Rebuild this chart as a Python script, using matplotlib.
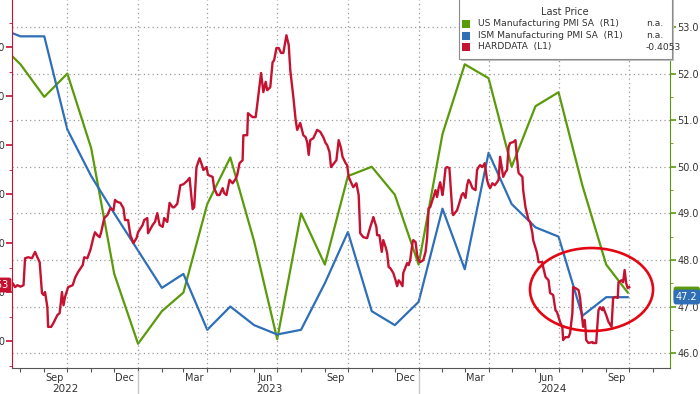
# US / ISM manufacturing PMI vs HARDDATA, Bloomberg style, two y axes
import numpy as np
import pandas as pd
import matplotlib
matplotlib.use('Agg')
import matplotlib.pyplot as plt
import matplotlib.dates as mdates
import matplotlib.transforms as mtransforms
from matplotlib.patches import Ellipse, Rectangle
from matplotlib.ticker import MultipleLocator, FuncFormatter

# monthly prints, plotted at the start of the following month (right axis)
pmi_dates = ['2022-07-01', '2022-08-01', '2022-09-01', '2022-10-01', '2022-11-01', '2022-12-01',
             '2023-01-01', '2023-02-01', '2023-03-01', '2023-04-01', '2023-05-01', '2023-06-01',
             '2023-07-01', '2023-08-01', '2023-09-01', '2023-10-01', '2023-11-01', '2023-12-01',
             '2024-01-01', '2024-02-01', '2024-03-01', '2024-04-01', '2024-05-01', '2024-06-01',
             '2024-07-01', '2024-08-01', '2024-09-01', '2024-09-29']
us_pmi = [52.7, 52.2, 51.5, 52.0, 50.4, 47.7,
          46.2, 46.9, 47.3, 49.2, 50.2, 48.4,
          46.3, 49.0, 47.9, 49.8, 50.0, 49.4,
          47.9, 50.7, 52.2, 51.9, 50.0, 51.3,
          51.6, 49.6, 47.9, 47.3]
ism_pmi = [53.0, 52.8, 52.8, 50.8, 49.8, 49.0,
           48.2, 47.4, 47.7, 46.5, 47.0, 46.6,
           46.4, 46.5, 47.5, 48.6, 46.9, 46.6,
           47.1, 49.1, 47.8, 50.3, 49.2, 48.7,
           48.5, 46.8, 47.2, 47.2]

# HARDDATA index (left axis)
hard_series = [
    ('2022-07-19', -0.396), ('2022-07-22', -0.382), ('2022-07-25', -0.390), ('2022-07-28', -0.386),
    ('2022-08-01', -0.389), ('2022-08-05', -0.386), ('2022-08-07', -0.331), ('2022-08-11', -0.329),
    ('2022-08-16', -0.331), ('2022-08-20', -0.318), ('2022-08-23', -0.329), ('2022-08-26', -0.339),
    ('2022-08-29', -0.402), ('2022-08-31', -0.406), ('2022-09-02', -0.400), ('2022-09-05', -0.431),
    ('2022-09-06', -0.471), ('2022-09-10', -0.471), ('2022-09-13', -0.463), ('2022-09-18', -0.447),
    ('2022-09-21', -0.443), ('2022-09-24', -0.400), ('2022-09-26', -0.427), ('2022-09-28', -0.410),
    ('2022-10-02', -0.390), ('2022-10-08', -0.386), ('2022-10-11', -0.371), ('2022-10-15', -0.359),
    ('2022-10-21', -0.345), ('2022-10-23', -0.329), ('2022-10-27', -0.331), ('2022-10-31', -0.314),
    ('2022-11-04', -0.288), ('2022-11-06', -0.278), ('2022-11-09', -0.284), ('2022-11-12', -0.288),
    ('2022-11-14', -0.278), ('2022-11-18', -0.249), ('2022-11-22', -0.243), ('2022-11-26', -0.229),
    ('2022-11-30', -0.233), ('2022-12-02', -0.212), ('2022-12-05', -0.216), ('2022-12-09', -0.218),
    ('2022-12-13', -0.229), ('2022-12-15', -0.253), ('2022-12-19', -0.253), ('2022-12-22', -0.284),
    ('2022-12-26', -0.300), ('2022-12-30', -0.290), ('2023-01-01', -0.278), ('2023-01-07', -0.263),
    ('2023-01-09', -0.253), ('2023-01-13', -0.249), ('2023-01-14', -0.280), ('2023-01-20', -0.263),
    ('2023-01-23', -0.257), ('2023-01-26', -0.239), ('2023-01-29', -0.263), ('2023-02-02', -0.267),
    ('2023-02-04', -0.249), ('2023-02-08', -0.257), ('2023-02-11', -0.218), ('2023-02-15', -0.227),
    ('2023-02-17', -0.227), ('2023-02-21', -0.220), ('2023-02-25', -0.182), ('2023-03-01', -0.180),
    ('2023-03-06', -0.173), ('2023-03-09', -0.167), ('2023-03-11', -0.198), ('2023-03-13', -0.231),
    ('2023-03-15', -0.227), ('2023-03-18', -0.145), ('2023-03-22', -0.127), ('2023-03-26', -0.145),
    ('2023-03-27', -0.151), ('2023-03-31', -0.145), ('2023-04-02', -0.161), ('2023-04-08', -0.165),
    ('2023-04-10', -0.188), ('2023-04-14', -0.202), ('2023-04-17', -0.202), ('2023-04-21', -0.188),
    ('2023-04-23', -0.198), ('2023-04-26', -0.202), ('2023-04-30', -0.171), ('2023-05-04', -0.178),
    ('2023-05-08', -0.169), ('2023-05-10', -0.161), ('2023-05-13', -0.137), ('2023-05-17', -0.131),
    ('2023-05-18', -0.080), ('2023-05-23', -0.080), ('2023-05-24', -0.035), ('2023-05-30', -0.043),
    ('2023-06-03', -0.043), ('2023-06-05', -0.018), ('2023-06-10', 0.047), ('2023-06-13', 0.008),
    ('2023-06-16', 0.029), ('2023-06-18', 0.012), ('2023-06-22', 0.018), ('2023-06-25', 0.069),
    ('2023-06-27', 0.073), ('2023-06-30', 0.098), ('2023-07-03', 0.098), ('2023-07-06', 0.088),
    ('2023-07-09', 0.088), ('2023-07-13', 0.124), ('2023-07-16', 0.104), ('2023-07-18', 0.053),
    ('2023-07-22', -0.002), ('2023-07-25', -0.049), ('2023-07-27', -0.069), ('2023-07-31', -0.055),
    ('2023-08-04', -0.080), ('2023-08-07', -0.084), ('2023-08-09', -0.094), ('2023-08-11', -0.120),
    ('2023-08-13', -0.090), ('2023-08-17', -0.086), ('2023-08-22', -0.069), ('2023-08-26', -0.073),
    ('2023-08-30', -0.084), ('2023-09-02', -0.096), ('2023-09-04', -0.100), ('2023-09-07', -0.114),
    ('2023-09-09', -0.145), ('2023-09-13', -0.137), ('2023-09-16', -0.131), ('2023-09-19', -0.090),
    ('2023-09-22', -0.106), ('2023-09-24', -0.124), ('2023-09-28', -0.137), ('2023-09-30', -0.141),
    ('2023-10-02', -0.165), ('2023-10-05', -0.176), ('2023-10-08', -0.186), ('2023-10-12', -0.178),
    ('2023-10-15', -0.202), ('2023-10-17', -0.280), ('2023-10-21', -0.288), ('2023-10-26', -0.290),
    ('2023-10-29', -0.273), ('2023-11-02', -0.253), ('2023-11-03', -0.247), ('2023-11-07', -0.267),
    ('2023-11-08', -0.284), ('2023-11-11', -0.284), ('2023-11-14', -0.318), ('2023-11-16', -0.294),
    ('2023-11-19', -0.308), ('2023-11-21', -0.320), ('2023-11-23', -0.349), ('2023-11-25', -0.351),
    ('2023-11-29', -0.361), ('2023-12-02', -0.376), ('2023-12-04', -0.388), ('2023-12-06', -0.376),
    ('2023-12-08', -0.380), ('2023-12-11', -0.388), ('2023-12-12', -0.361), ('2023-12-15', -0.349),
    ('2023-12-17', -0.341), ('2023-12-19', -0.345), ('2023-12-21', -0.335), ('2023-12-24', -0.300),
    ('2023-12-25', -0.294), ('2023-12-28', -0.298), ('2023-12-30', -0.324), ('2024-01-01', -0.335),
    ('2024-01-03', -0.339), ('2024-01-07', -0.335), ('2024-01-10', -0.318), ('2024-01-12', -0.290),
    ('2024-01-14', -0.229), ('2024-01-16', -0.227), ('2024-01-19', -0.212), ('2024-01-20', -0.208),
    ('2024-01-23', -0.192), ('2024-01-25', -0.206), ('2024-01-27', -0.188), ('2024-01-29', -0.176),
    ('2024-02-01', -0.202), ('2024-02-02', -0.192), ('2024-02-05', -0.147), ('2024-02-07', -0.145),
    ('2024-02-10', -0.147), ('2024-02-14', -0.239), ('2024-02-15', -0.243), ('2024-02-20', -0.233),
    ('2024-02-23', -0.218), ('2024-02-26', -0.202), ('2024-02-28', -0.198), ('2024-03-02', -0.208),
    ('2024-03-04', -0.182), ('2024-03-06', -0.171), ('2024-03-08', -0.176), ('2024-03-11', -0.188),
    ('2024-03-15', -0.192), ('2024-03-17', -0.151), ('2024-03-19', -0.145), ('2024-03-21', -0.141),
    ('2024-03-24', -0.145), ('2024-03-27', -0.137), ('2024-03-30', -0.171), ('2024-04-01', -0.182),
    ('2024-04-03', -0.188), ('2024-04-06', -0.178), ('2024-04-09', -0.182), ('2024-04-12', -0.176),
    ('2024-04-14', -0.171), ('2024-04-16', -0.124), ('2024-04-19', -0.155), ('2024-04-20', -0.165),
    ('2024-04-23', -0.155), ('2024-04-25', -0.151), ('2024-04-27', -0.104), ('2024-04-29', -0.096),
    ('2024-05-03', -0.094), ('2024-05-06', -0.090), ('2024-05-08', -0.127), ('2024-05-10', -0.157),
    ('2024-05-15', -0.165), ('2024-05-16', -0.192), ('2024-05-19', -0.227), ('2024-05-23', -0.253),
    ('2024-05-25', -0.257), ('2024-05-28', -0.280), ('2024-05-29', -0.294), ('2024-06-01', -0.310),
    ('2024-06-03', -0.320), ('2024-06-05', -0.339), ('2024-06-10', -0.339), ('2024-06-11', -0.349),
    ('2024-06-14', -0.369), ('2024-06-18', -0.376), ('2024-06-20', -0.402), ('2024-06-24', -0.406),
    ('2024-06-27', -0.437), ('2024-06-29', -0.441), ('2024-07-03', -0.461), ('2024-07-06', -0.473),
    ('2024-07-07', -0.498), ('2024-07-10', -0.492), ('2024-07-14', -0.492), ('2024-07-16', -0.484),
    ('2024-07-19', -0.443), ('2024-07-20', -0.390), ('2024-07-23', -0.392), ('2024-07-27', -0.396),
    ('2024-07-29', -0.412), ('2024-07-31', -0.443), ('2024-08-02', -0.471), ('2024-08-04', -0.457),
    ('2024-08-05', -0.473), ('2024-08-06', -0.498), ('2024-08-09', -0.504), ('2024-08-14', -0.502),
    ('2024-08-15', -0.504), ('2024-08-19', -0.504), ('2024-08-21', -0.457), ('2024-08-22', -0.437),
    ('2024-08-24', -0.431), ('2024-08-27', -0.437), ('2024-08-28', -0.431), ('2024-09-01', -0.447),
    ('2024-09-04', -0.461), ('2024-09-08', -0.471), ('2024-09-10', -0.412), ('2024-09-13', -0.410),
    ('2024-09-16', -0.412), ('2024-09-17', -0.380), ('2024-09-21', -0.376), ('2024-09-23', -0.380),
    ('2024-09-25', -0.355), ('2024-09-27', -0.382), ('2024-09-29', -0.392), ('2024-10-01', -0.390),
]
hard_dates = [d for d, v in hard_series]
hard_values = [v for d, v in hard_series]

month_labels = ['Sep', 'Dec', 'Mar', 'Jun', 'Sep', 'Dec', 'Mar', 'Jun', 'Sep']
month_label_dates = ['2022-09-15', '2022-12-15', '2023-03-15', '2023-06-15', '2023-09-15',
                     '2023-12-15', '2024-03-15', '2024-06-15', '2024-09-15']
year_labels = ['2022', '2023', '2024']
year_label_dates = ['2022-09-28', '2023-06-21', '2024-06-24']

legend_names = ['US Manufacturing PMI SA  (R1)', 'ISM Manufacturing PMI SA  (R1)', 'HARDDATA  (L1)']
legend_values = ['n.a.', 'n.a.', '-0.4053']

GREEN = '#5b9a0a'
BLUE = '#2e6fb7'
RED = '#c41230'
TXT = '#333333'
GRID = '#9a9a9a'

W, H = 700, 394
fig = plt.figure(figsize=(W / 100, H / 100), dpi=100)
fig.patch.set_facecolor('white')
ax = fig.add_axes([12 / W, 26 / H, 658 / W, 368 / H])
ax2 = ax.twinx()
ax.set_zorder(ax2.get_zorder() + 1)
ax.patch.set_visible(False)

# lines
ax2.plot(pd.to_datetime(pmi_dates), us_pmi, color=GREEN, lw=1.6)
ax2.plot(pd.to_datetime(pmi_dates), ism_pmi, color=BLUE, lw=1.6)
ax.plot(pd.to_datetime(hard_dates), hard_values, color=RED, lw=1.7)

ax.set_xlim(pd.Timestamp('2022-07-21'), pd.Timestamp('2024-11-23'))
ax.set_ylim(-0.555, 0.196)
ax2.set_ylim(45.68, 53.58)

# grid: horizontal from right axis, vertical at quarter starts
ax2.grid(axis='y', which='major', color=GRID, ls=(0, (1, 2.5)), lw=0.9)
for q in pd.date_range('2022-10-01', '2024-10-01', freq='QS'):
    ax2.axvline(q, color=GRID, ls=(0, (1, 2.5)), lw=0.9)

# spines
for s in ['top', 'right']:
    ax.spines[s].set_visible(False)
for s in ['top', 'left', 'bottom']:
    ax2.spines[s].set_visible(False)
ax.spines['left'].set_color(RED)
ax.spines['bottom'].set_color('#555555')
ax2.spines['right'].set_color(GREEN)

# left axis
ax.yaxis.set_major_locator(MultipleLocator(0.1))
ax.yaxis.set_minor_locator(MultipleLocator(0.05))
ax.yaxis.set_major_formatter(FuncFormatter(lambda v, p: '%.2f' % (0.0 if abs(v) < 1e-9 else v)))
ax.tick_params(axis='y', which='both', colors=RED, labelcolor=TXT, labelsize=7, pad=1)
ax.tick_params(axis='y', which='major', length=4, width=1.2)
ax.tick_params(axis='y', which='minor', length=2)

# right axis
ax2.yaxis.set_major_locator(MultipleLocator(1))
ax2.yaxis.set_minor_locator(MultipleLocator(0.5))
ax2.yaxis.set_major_formatter(FuncFormatter(lambda v, p: '%.1f' % v))
ax2.tick_params(axis='y', which='both', colors=GREEN, labelcolor=TXT, labelsize=7, pad=1.5)
ax2.tick_params(axis='y', which='major', length=4, width=1.2)
ax2.tick_params(axis='y', which='minor', length=2)

# x axis: monthly tick marks, labels drawn as text
ax.xaxis.set_major_locator(mdates.MonthLocator())
ax.tick_params(axis='x', length=3, color='#555555', labelbottom=False)
xt = mtransforms.blended_transform_factory(ax.transData, ax.transAxes)
for d, lab in zip(month_label_dates, month_labels):
    ax.text(pd.Timestamp(d), -0.026, lab, transform=xt, ha='center', va='center',
            fontsize=7, color=TXT, clip_on=False)
for d, lab in zip(year_label_dates, year_labels):
    ax.text(pd.Timestamp(d), -0.058, lab, transform=xt, ha='center', va='center',
            fontsize=7.5, color=TXT, clip_on=False)
for y in ['2023-01-01', '2024-01-01']:
    ax.plot([pd.Timestamp(y)] * 2, [-0.008, -0.075], transform=xt, color='#c8c8c8',
            lw=1, clip_on=False)

# highlight ellipse
ax.add_patch(Ellipse((0.8807, 0.2133), 0.187, 0.2255, transform=ax.transAxes,
                     fill=False, ec='#e30613', lw=1.9, zorder=10))

# last value badges (green one sits just behind the blue one)
fig.text(9 / W, 1 - 285 / H, '-0.4053', ha='right', va='center', color='white', fontsize=7,
         bbox=dict(boxstyle='round,pad=0.25', fc=RED, ec='none'))
fig.text(676 / W, 1 - 294 / H, '47.3', ha='left', va='center', color=GREEN, fontsize=7,
         bbox=dict(boxstyle='round,pad=0.25', fc=GREEN, ec='none'))
fig.text(676 / W, 1 - 297 / H, '47.2', ha='left', va='center', color='white', fontsize=7,
         bbox=dict(boxstyle='round,pad=0.25', fc=BLUE, ec='none'))

# legend box
fig.add_artist(Rectangle((461 / W, 1 - 61 / H), 213 / W, 64 / H, transform=fig.transFigure,
                         fc='#c0c0c0', ec='none', zorder=4))
fig.add_artist(Rectangle((459 / W, 1 - 59 / H), 213 / W, 62 / H, transform=fig.transFigure,
                         fc='white', ec='#8a8a8a', lw=0.8, zorder=5))
fig.text(565 / W, 1 - 12 / H, 'Last Price', ha='center', va='center', fontsize=7, color=TXT, zorder=6)
for i, (name, val, col) in enumerate(zip(legend_names, legend_values, [GREEN, BLUE, RED])):
    yy = 1 - (24 + 11.5 * i) / H
    fig.add_artist(Rectangle((462 / W, yy - 4 / H), 8 / W, 8 / H, transform=fig.transFigure,
                             fc=col, ec='none', zorder=6))
    fig.text(478 / W, yy, name, ha='left', va='center', fontsize=6.6, color=TXT, zorder=6)
    fig.text(646 / W, yy, val, ha='left', va='center', fontsize=6.6, color=TXT, zorder=6)

fig.savefig('out.png', dpi=100)
